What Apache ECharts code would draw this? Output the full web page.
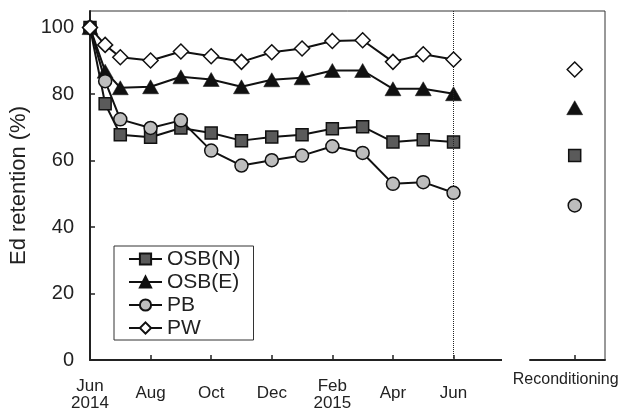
<!DOCTYPE html>
<html><head><meta charset="utf-8">
<script src="https://cdn.jsdelivr.net/npm/echarts@6/dist/echarts.min.js"></script>
<style>html,body{margin:0;padding:0;background:#fff}#c{width:627px;height:412px}</style>
</head><body><div id="c"></div>
<script>
const months = [0, 0.5, 1, 2, 3, 4, 5, 6, 7, 8, 9, 10, 11, 12];
const osbN = [100, 77.1, 67.8, 67.0, 69.8, 68.3, 66.0, 67.1, 67.8, 69.6, 70.2, 65.6, 66.3, 65.6];
const osbE = [100, 86.9, 81.9, 82.2, 85.2, 84.4, 82.2, 84.3, 84.9, 87.1, 87.1, 81.6, 81.6, 80.1];
const pb   = [100, 83.9, 72.4, 69.8, 72.1, 63.0, 58.5, 60.1, 61.5, 64.3, 62.3, 53.0, 53.5, 50.3];
const pw   = [100, 94.8, 91.1, 90.1, 92.8, 91.4, 89.7, 92.6, 93.7, 96.0, 96.2, 89.7, 92.0, 90.4];
const reconX = 16;
const reconN = 61.5, reconE = 75.9, reconPB = 46.5, reconPW = 87.4;
const xTickValues = [0, 2, 4, 6, 8, 10, 12, 16];
const xTickLabels = ['Jun\n2014', 'Aug', 'Oct', 'Dec', 'Feb\n2015', 'Apr', 'Jun', 'Reconditioning'];
const yTicks = [0, 20, 40, 60, 80, 100];
const dividerMonth = 12;
const axisGap = [13.6, 14.5];
const names = ['OSB(N)', 'OSB(E)', 'PB', 'PW'];

const FONT = 'Liberation Sans, Arial, sans-serif';
const INK = '#111';
const styles = [
  {symbol: 'rect', symbolSize: 12, itemStyle: {color: '#5a5a5a', borderColor: INK, borderWidth: 1.5, opacity: 1}},
  {symbol: 'triangle', symbolSize: [16, 14], itemStyle: {color: INK, borderColor: INK, borderWidth: 0.5, opacity: 1}},
  {symbol: 'circle', symbolSize: 13, itemStyle: {color: '#bdbdbd', borderColor: INK, borderWidth: 1.5, opacity: 1}},
  {symbol: 'diamond', symbolSize: 15, itemStyle: {color: '#fff', borderColor: INK, borderWidth: 1.5, opacity: 1}}
];
const seriesVals = [osbN, osbE, pb, pw];
const reconVals = [reconN, reconE, reconPB, reconPW];

const series = [];
seriesVals.forEach((vals, i) => {
  const s = Object.assign({
    type: 'line', name: names[i],
    data: months.map((m, k) => [m, vals[k]]),
    lineStyle: {color: INK, width: 2},
    showAllSymbol: true, z: 3 + i
  }, styles[i]);
  if (i === 3) {
    s.markLine = {silent: true, symbol: 'none', label: {show: false},
      lineStyle: {type: 'dotted', color: '#222', width: 1}, data: [{xAxis: dividerMonth}]};
  }
  series.push(s);
});
reconVals.forEach((v, i) => {
  series.push(Object.assign({type: 'scatter', name: names[i], data: [[reconX, v]], z: 3 + i}, styles[i]));
});
series.push({type: 'line', data: axisGap.map(x => [x, 0]), symbol: 'none', silent: true, clip: false,
  lineStyle: {color: '#fff', width: 4}, z: 10});

const labelMap = {};
xTickValues.forEach((v, i) => labelMap[v] = xTickLabels[i]);

const chart = echarts.init(document.getElementById('c'));
chart.setOption({
  animation: false,
  textStyle: {fontFamily: FONT},
  grid: {left: 90, right: 22, top: 11, bottom: 52, show: true, borderColor: '#333', borderWidth: 1,
    containLabel: false, outerBoundsMode: 'none'},
  xAxis: {
    type: 'value', min: 0, max: 17,
    splitLine: {show: false},
    axisLine: {lineStyle: {color: '#222', width: 2}},
    axisTick: {inside: true, length: 5, lineStyle: {color: '#222', width: 1.5}, customValues: xTickValues},
    axisLabel: {
      customValues: xTickValues, margin: 12, color: '#222', fontSize: 17, fontFamily: FONT,
      formatter: v => {
        const t = labelMap[v];
        if (!t) return '';
        if (t.indexOf('\n') >= 0) { const p = t.split('\n'); return '{t1|' + p[0] + '}\n{t2|' + p[1] + '}'; }
        if (t === 'Reconditioning') return '{r|' + t + '}';
        return '{s|' + t + '}';
      },
      rich: {
        t1: {fontSize: 17, lineHeight: 28, fontFamily: FONT, color: '#222'},
        t2: {fontSize: 17, lineHeight: 6, fontFamily: FONT, color: '#222'},
        s: {fontSize: 17, lineHeight: 42, fontFamily: FONT, color: '#222'},
        r: {fontSize: 16, lineHeight: 16, fontFamily: FONT, color: '#222', padding: [0, 18, 0, 0]}
      }
    }
  },
  yAxis: {
    type: 'value', min: 0, max: 105, interval: 20,
    name: 'Ed retention (%)', nameLocation: 'middle', nameGap: 57,
    nameTextStyle: {fontSize: 22, color: '#222', fontFamily: FONT},
    splitLine: {show: false},
    axisLine: {show: true, lineStyle: {color: '#222', width: 2}},
    axisTick: {show: true, inside: true, length: 5, lineStyle: {color: '#222', width: 1.5}, customValues: yTicks},
    axisLabel: {customValues: yTicks, margin: 16, fontSize: 20, color: '#222', fontFamily: FONT}
  },
  legend: {
    orient: 'vertical', left: 114, top: 246, data: names,
    itemWidth: 33, itemHeight: 14, itemGap: 1,
    textStyle: {fontSize: 21, lineHeight: 22, color: '#222', fontFamily: FONT},
    borderColor: '#333', borderWidth: 1, padding: [2, 13, 1, 14], borderRadius: 0
  },
  series: series
});
</script></body></html>
